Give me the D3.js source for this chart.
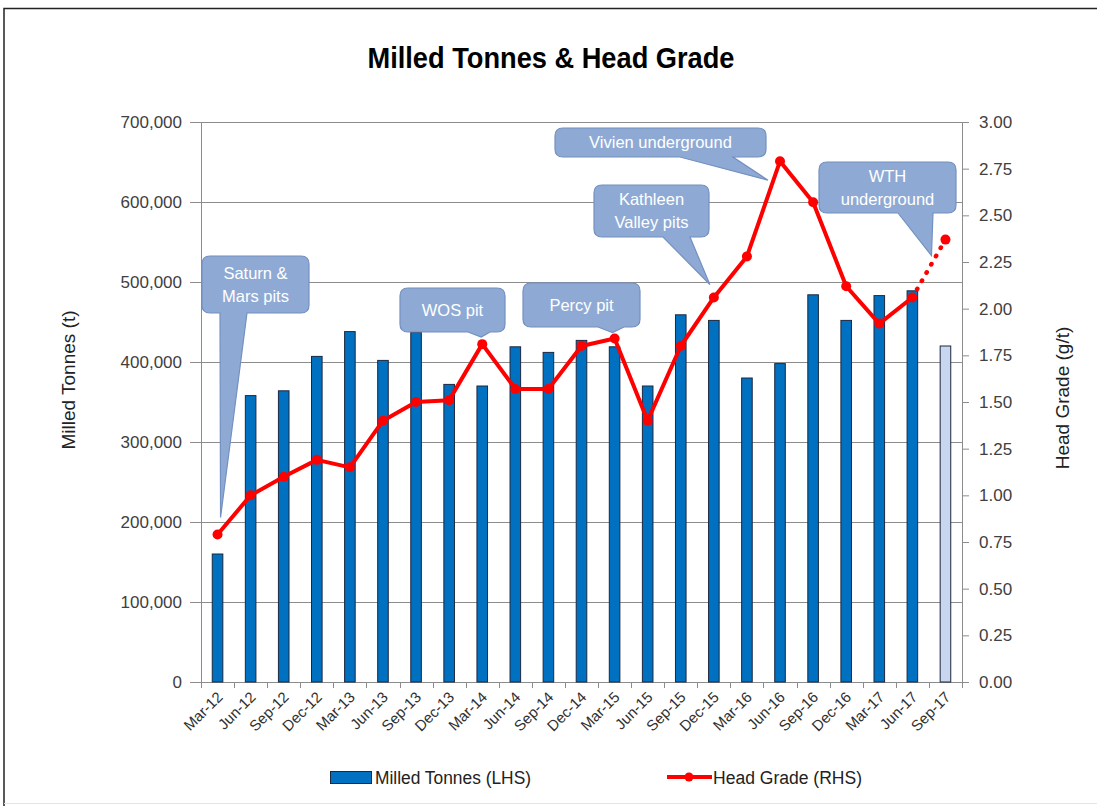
<!DOCTYPE html>
<html>
<head>
<meta charset="utf-8">
<script src="https://cdn.jsdelivr.net/npm/d3@7"></script>
<style>
  body { margin: 0; background: #fff; }
  svg { display: block; font-family: "Liberation Sans", Arial, sans-serif; }
</style>
</head>
<body>
<div id="chart-area"></div>
<script>
/* data */
const categories = ["Mar-12", "Jun-12", "Sep-12", "Dec-12", "Mar-13", "Jun-13", "Sep-13", "Dec-13",
  "Mar-14", "Jun-14", "Sep-14", "Dec-14", "Mar-15", "Jun-15", "Sep-15", "Dec-15",
  "Mar-16", "Jun-16", "Sep-16", "Dec-16", "Mar-17", "Jun-17", "Sep-17"];
const milledTonnes = [160000, 358000, 364000, 407000, 438000, 402000, 437000, 372000,
  370000, 419000, 412000, 427000, 419000, 370000, 459000, 452000,
  380000, 398000, 484000, 452000, 483000, 489000, 420000];
const headGrade = [0.79, 1.00, 1.10, 1.19, 1.15, 1.40, 1.50, 1.51,
  1.81, 1.57, 1.57, 1.80, 1.84, 1.40, 1.80, 2.06,
  2.28, 2.79, 2.57, 2.12, 1.92, 2.06, 2.37];
const forecast = ["Sep-17"];
const tonnesTicks = [0, 100000, 200000, 300000, 400000, 500000, 600000, 700000];
const gradeTicks = [0, 0.25, 0.5, 0.75, 1, 1.25, 1.5, 1.75, 2, 2.25, 2.5, 2.75, 3];
const calloutLabels = [["Saturn &", "Mars pits"], ["WOS pit"], ["Percy pit"],
  ["Kathleen", "Valley pits"], ["Vivien underground"], ["WTH", "underground"]];
const calloutAt = ["Mar-12", "Mar-14", "Mar-15", "Dec-15", "Jun-16", "Sep-17"];

/* layout */
const W = 1097, H = 806;
const margin = { top: 122, right: 135, bottom: 124, left: 201 };
const width = W - margin.left - margin.right,
      height = H - margin.top - margin.bottom;

// callout boxes (x, y, w, h, tail base x1/x2, tip offset from the point)
const calloutBoxes = [
  { x: 202, y: 256, w: 107, h: 57, b1: 220, b2: 247, dx: 3, dy: -17 },
  { x: 400, y: 288, w: 105, h: 44, b1: 468, b2: 490, dx: -1, dy: -7 },
  { x: 523, y: 283, w: 117, h: 44, b1: 598, b2: 624, dx: -2, dy: -6 },
  { x: 594, y: 185, w: 115, h: 52, b1: 663, b2: 690, dx: -4, dy: -13 },
  { x: 555, y: 128, w: 211, h: 29, b1: 680, b2: 733, dx: -12, dy: 19 },
  { x: 819, y: 162, w: 137, h: 51, b1: 898, b2: 933, dx: -14, dy: 16 }
];

const svg = d3.select("#chart-area").append("svg")
  .attr("width", W).attr("height", H);

// frame
svg.append("rect").attr("width", W).attr("height", H).attr("fill", "#fff");
svg.append("path").attr("d", "M4,806 V8.5 H1097").attr("fill", "none").attr("stroke", "#222").attr("stroke-width", 1.5);
svg.append("line").attr("x1", 4).attr("x2", W).attr("y1", 803.5).attr("y2", 803.5).attr("stroke", "#e4e4e4");

// title
svg.append("text")
  .attr("x", 551).attr("y", 68)
  .attr("text-anchor", "middle")
  .attr("font-size", 30).attr("font-weight", "bold")
  .attr("textLength", 367).attr("lengthAdjust", "spacingAndGlyphs")
  .text("Milled Tonnes & Head Grade");

const g = svg.append("g")
  .attr("transform", "translate(" + margin.left + ", " + margin.top + ")");

/* scales */
const x = d3.scaleBand().domain(categories).range([0, width]).padding(0);
const y = d3.scaleLinear().domain([0, 700000]).range([height, 0]);
const y2 = d3.scaleLinear().domain([0, 3]).range([height, 0]);

// gridlines
g.selectAll(".grid").data(tonnesTicks.slice(1)).enter().append("line")
  .attr("x1", 0).attr("x2", width)
  .attr("y1", d => y(d) + 0.5).attr("y2", d => y(d) + 0.5)
  .attr("stroke", "#8c8c8c").attr("stroke-width", 1);

/* left axis */
const yAxis = g.append("g")
  .call(d3.axisLeft(y).tickValues(tonnesTicks).tickSize(11).tickPadding(8).tickFormat(d3.format(",")));
yAxis.select(".domain").attr("stroke", "#8c8c8c");
yAxis.selectAll(".tick line").attr("stroke", "#8c8c8c");
yAxis.selectAll("text").attr("font-size", 17).attr("fill", "#404040").attr("font-family", "Liberation Sans, Arial, sans-serif");

/* right axis */
const y2Axis = g.append("g")
  .attr("transform", "translate(" + width + ",0)")
  .call(d3.axisRight(y2).tickValues(gradeTicks).tickSize(7).tickPadding(10).tickFormat(d3.format(".2f")));
y2Axis.select(".domain").attr("stroke", "#8c8c8c");
y2Axis.selectAll(".tick line").attr("stroke", "#8c8c8c");
y2Axis.selectAll("text").attr("font-size", 17).attr("fill", "#404040").attr("font-family", "Liberation Sans, Arial, sans-serif");

/* x axis */
const xAxis = g.append("g")
  .attr("transform", "translate(0," + height + ")")
  .call(d3.axisBottom(x).tickSize(0).tickPadding(0));
xAxis.select(".domain").attr("stroke", "#8c8c8c");
xAxis.selectAll(".tick text")
  .attr("font-size", 15).attr("fill", "#303030")
  .attr("font-family", "Liberation Sans, Arial, sans-serif")
  .attr("text-anchor", "end")
  .attr("dy", 0)
  .attr("transform", "translate(6,16) rotate(-45)");
g.selectAll(".xtick").data(d3.range(categories.length + 1)).enter().append("line")
  .attr("x1", i => Math.round(i * x.step()) + 0.5).attr("x2", i => Math.round(i * x.step()) + 0.5)
  .attr("y1", height).attr("y2", height + 6)
  .attr("stroke", "#8c8c8c");

/* bars */
const barW = x.bandwidth() * 0.32;
g.selectAll(".bar").data(categories).enter().append("rect")
  .attr("x", d => x(d) + (x.bandwidth() - barW) / 2)
  .attr("y", (d, i) => y(milledTonnes[i]))
  .attr("width", barW)
  .attr("height", (d, i) => height - y(milledTonnes[i]))
  .attr("fill", d => forecast.includes(d) ? "#c9d6ef" : "#0070c0")
  .attr("stroke", "#1c2840").attr("stroke-width", 1);

/* head grade line */
const cx = d => x(d) + x.bandwidth() / 2;
const actual = categories.map((d, i) => ({ c: d, v: headGrade[i] })).filter(d => !forecast.includes(d.c));
const fIdx = categories.indexOf(forecast[0]);
const line = d3.line().x(d => cx(d.c)).y(d => y2(d.v));

g.append("path").datum([{ c: categories[fIdx - 1], v: headGrade[fIdx - 1] }, { c: categories[fIdx], v: headGrade[fIdx] }])
  .attr("d", line).attr("fill", "none")
  .attr("stroke", "#ff0000").attr("stroke-width", 4.5)
  .attr("stroke-linecap", "round").attr("stroke-dasharray", "0.5,9");

g.append("path").datum(actual)
  .attr("d", line).attr("fill", "none")
  .attr("stroke", "#ff0000").attr("stroke-width", 4)
  .attr("stroke-linejoin", "round");

g.selectAll(".pt").data(categories).enter().append("circle")
  .attr("cx", d => cx(d)).attr("cy", (d, i) => y2(headGrade[i]))
  .attr("r", 5).attr("fill", "#ff0000");

/* callouts */
function calloutPath(b, tx, ty) {
  const r = 8, x0 = b.x, y0 = b.y, x1 = b.x + b.w, y1 = b.y + b.h;
  return "M" + (x0 + r) + "," + y0 +
    " H" + (x1 - r) + " Q" + x1 + "," + y0 + " " + x1 + "," + (y0 + r) +
    " V" + (y1 - r) + " Q" + x1 + "," + y1 + " " + (x1 - r) + "," + y1 +
    " H" + b.b2 + " L" + tx + "," + ty + " L" + b.b1 + "," + y1 +
    " H" + (x0 + r) + " Q" + x0 + "," + y1 + " " + x0 + "," + (y1 - r) +
    " V" + (y0 + r) + " Q" + x0 + "," + y0 + " " + (x0 + r) + "," + y0 + " Z";
}

calloutLabels.forEach((lines, k) => {
  const b = calloutBoxes[k];
  const i = categories.indexOf(calloutAt[k]);
  const tx = margin.left + cx(calloutAt[k]) + b.dx;
  const ty = margin.top + y2(headGrade[i]) + b.dy;
  svg.append("path")
    .attr("d", calloutPath(b, tx, ty))
    .attr("fill", "#8eaad4").attr("stroke", "#7390c0").attr("stroke-width", 1.2);
  const lh = 23;
  const midY = b.y + b.h / 2;
  lines.forEach((t, j) => {
    svg.append("text")
      .attr("x", b.x + b.w / 2)
      .attr("y", midY + (j - (lines.length - 1) / 2) * lh)
      .attr("dy", "0.36em")
      .attr("text-anchor", "middle")
      .attr("font-size", 16.5).attr("fill", "#fff")
      .text(t);
  });
});

/* axis titles */
svg.append("text")
  .attr("transform", "translate(68,380) rotate(-90)")
  .attr("text-anchor", "middle").attr("dy", "0.36em")
  .attr("font-size", 19).attr("fill", "#222")
  .text("Milled Tonnes (t)");
svg.append("text")
  .attr("transform", "translate(1062,398) rotate(-90)")
  .attr("text-anchor", "middle").attr("dy", "0.36em")
  .attr("font-size", 19).attr("fill", "#222")
  .text("Head Grade (g/t)");

/* legend */
const legend = svg.append("g");
legend.append("rect")
  .attr("x", 330.5).attr("y", 771.5).attr("width", 41).attr("height", 12)
  .attr("fill", "#0070c0").attr("stroke", "#1c2840");
legend.append("text")
  .attr("x", 375).attr("y", 784)
  .attr("font-size", 18).attr("fill", "#222")
  .attr("textLength", 156).attr("lengthAdjust", "spacingAndGlyphs")
  .text("Milled Tonnes (LHS)");
legend.append("line")
  .attr("x1", 667).attr("x2", 712).attr("y1", 777).attr("y2", 777)
  .attr("stroke", "#ff0000").attr("stroke-width", 4);
legend.append("circle")
  .attr("cx", 689).attr("cy", 777).attr("r", 4.5).attr("fill", "#ff0000");
legend.append("text")
  .attr("x", 713).attr("y", 784)
  .attr("font-size", 18).attr("fill", "#222")
  .attr("textLength", 149).attr("lengthAdjust", "spacingAndGlyphs")
  .text("Head Grade (RHS)");
</script>
</body>
</html>
